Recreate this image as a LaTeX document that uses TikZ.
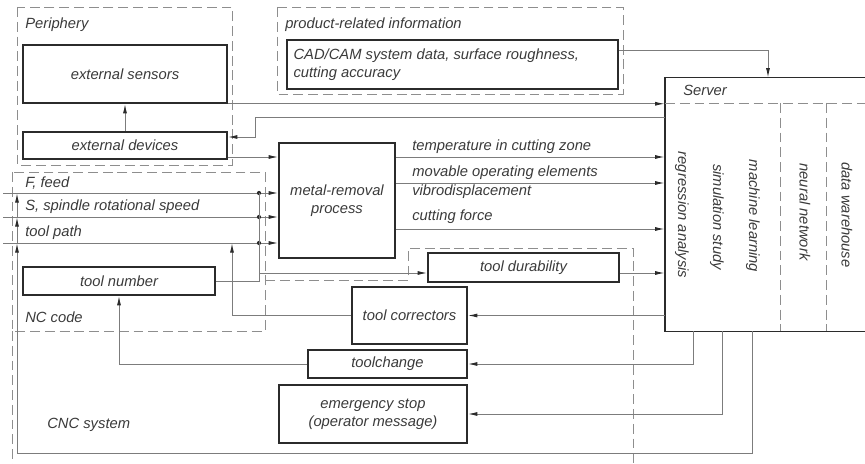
\documentclass[tikz,border=0pt]{standalone}
\usepackage{fontspec}
\setmainfont{Liberation Sans}
\usetikzlibrary{arrows.meta,fit,positioning}
\definecolor{boxline}{HTML}{2B2B2B}
\definecolor{wirec}{HTML}{7C7C7C}
\definecolor{dashc}{HTML}{8E8E8E}
\definecolor{txt}{HTML}{3A3A3A}

\begin{document}
\begin{tikzpicture}[x=0.025cm,y=-0.025cm,
	font=\fontsize{10.5}{13}\selectfont\itshape,
	box/.style={draw=boxline,line width=1.1pt,inner sep=0pt},
	btext/.style={text=txt,align=center,inner sep=0pt},
	group/.style={draw=dashc,line width=0.7pt,dash pattern=on 7pt off 3.5pt},
	wire/.style={draw=wirec,line width=0.7pt},
	arr/.style={wire,-{Latex[length=2.4mm,width=1mm,color=boxline]}},
	lbl/.style={text=txt,anchor=west,inner sep=0pt},
	dot/.style={circle,fill=boxline,inner sep=0pt,minimum size=3pt}]
	\useasboundingbox (0,0) rectangle (865,464);

	% groups
	\draw[group] (17,7) rectangle (232,165);
	\node[lbl] (perilbl) at (25,25) {Periphery};
	\draw[group] (277,7) rectangle (623,94);
	\node[lbl] (prodlbl) at (285,25) {product-related information};
	\draw[group] (12,172) rectangle (265,331);
	\node[lbl] (nclbl) at (25,317) {NC code};
	\draw[group] (12,331) -- (12,464);
	\draw[group] (265,280) -- (408,280) -- (408,248) -- (633,248) -- (633,464);
	\node[lbl] (cnclbl) at (47,425) {CNC system};

	% boxes
	\node[box,fit={(23,45) (227,103)},label={[btext]center:external sensors}] (sens) {};
	\node[box,fit={(23,132) (227,159)},label={[btext]center:external devices}] (dev) {};
	\node[box,fit={(287,40) (618,89)},
		label={[lbl,align=left,xshift=5pt]west:CAD/CAM system data, surface roughness,\\cutting accuracy}] (cad) {};
	\node[box,fit={(279,143) (395,258)},label={[btext]center:metal-removal\\process}] (mrp) {};
	\node[box,fit={(23,267) (215,295)},label={[btext]center:tool number}] (tnum) {};
	\node[box,fit={(428,253) (619,282)},label={[btext]center:tool durability}] (dur) {};
	\node[box,fit={(352,287) (467,344)},label={[btext]center:tool correctors}] (corr) {};
	\node[box,fit={(308,350) (467,378)},label={[btext]center:toolchange}] (tchg) {};
	\node[box,fit={(279,385) (467,443)},label={[btext]center:emergency stop\\(operator message)}] (estop) {};

	% server
	\node[inner sep=0pt,fit={(665,78) (865,331)}] (server) {};
	\draw[draw=boxline,line width=1.1pt] (server.north east) -- (server.north west)
		-- (server.south west) -- (server.south east);
	\node[lbl] (srvlbl) at (683,90) {Server};
	\draw[group] (665,103) -- (865,103);
	\draw[group] (780,103) -- (780,331);
	\draw[group] (826,103) -- (826,331);
	\node[text=txt,rotate=-90] (regr) at (682,215) {regression analysis};
	\node[text=txt,rotate=-90] (simu) at (717,217) {simulation study};
	\node[text=txt,rotate=-90] (mlearn) at (753,216) {machine learning};
	\node[text=txt,rotate=-90] (neur) at (805,212) {neural network};
	\node[text=txt,rotate=-90] (dware) at (847,215) {data warehouse};

	% periphery links
	\draw[arr] (dev) -- (sens);
	\draw[arr] (sens.south east) -- (sens.south east -| server.west);
	\draw[arr] (server.west |- 0,117) -- (255,117) -- (255,137) -- (dev.east |- 0,137);
	\draw[arr] (dev.east |- 0,157) -- (mrp.west |- 0,157);
	\draw[arr] (cad.east |- 0,50) -| (server.north -| 768,0);

	% process outputs
	\draw[arr] (mrp.east |- 0,157) -- (server.west |- 0,157);
	\draw[arr] (mrp.east |- 0,183) -- (server.west |- 0,183);
	\draw[arr] (mrp.east |- 0,229) -- (server.west |- 0,229);
	\node[lbl] (temp) at (412,147) {temperature in cutting zone};
	\node[lbl] (mov) at (412,173) {movable operating elements};
	\node[lbl] (vibr) at (412,192) {vibrodisplacement};
	\node[lbl] (force) at (412,217) {cutting force};

	% NC code inputs
	\coordinate (inF) at (3,193);
	\coordinate (inS) at (3,217);
	\coordinate (inP) at (3,243);
	\draw[arr] (inF) -- (inF -| mrp.west);
	\draw[arr] (inS) -- (inS -| mrp.west);
	\draw[arr] (inP) -- (inP -| mrp.west);
	\node[lbl] (flbl) at (25,183) {F, feed};
	\node[lbl] (slbl) at (25,207) {S, spindle rotational speed};
	\node[lbl] (plbl) at (25,233) {tool path};
	\node[dot] (jF) at (259,193) {};
	\node[dot] (jS) at (259,217) {};
	\node[dot] (jP) at (259,243) {};
	\draw[wire] (tnum.east) -| (jF.center);
	\draw[arr] (259,273) -- (dur.west |- 0,273);
	\draw[arr] (dur.east |- 0,273) -- (server.west |- 0,273);

	% feedback from server
	\draw[arr] (server.west |- corr.east) -- (corr.east);
	\draw[arr] (corr.west) -| (232,243);
	\draw[arr] (server.south -| 693,0) |- (tchg.east);
	\draw[arr] (tchg.west) -| (tnum.south);
	\draw[arr] (server.south -| 722,0) |- (estop.east);
	\draw[arr] (server.south -| 752,0) |- (17,453) -- (17,243);
	\draw[arr] (17,243) -- (17,217);
	\draw[arr] (17,217) -- (17,193);
\end{tikzpicture}
\end{document}
